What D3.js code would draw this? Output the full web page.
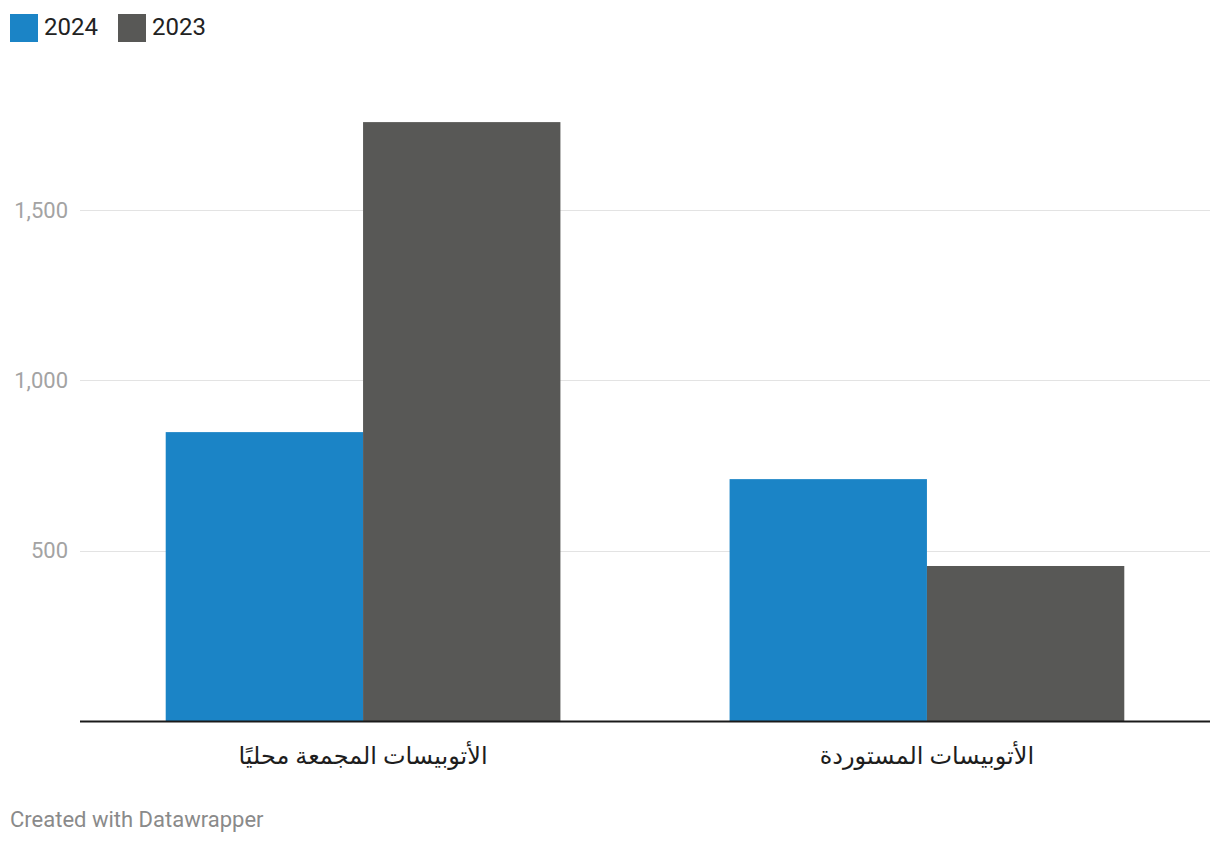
<!DOCTYPE html>
<html>
<head>
<meta charset="utf-8">
<script src="https://cdn.jsdelivr.net/npm/d3@7"></script>
<style>
  body { margin: 0; background: #fff; font-family: Roboto, sans-serif; }
  svg text { font-family: Roboto, "Noto Sans", "DejaVu Sans", sans-serif; }
</style>
</head>
<body>
<svg width="1220" height="844"></svg>
<script>
const svg = d3.select("svg");

const categories = ["الأتوبيسات المجمعة محليًا", "الأتوبيسات المستوردة"];
const seriesNames = ["2024", "2023"];
const values2024 = [848, 710];
const values2023 = [1758, 455];
const yTicks = [500, 1000, 1500];
const colors = ["#1b84c6", "#585856"];

const series = [values2024, values2023];
const data = categories.map((c, i) => ({
  cat: c,
  vals: seriesNames.map((s, j) => ({ key: s, value: series[j][i] }))
}));

const left = 80, right = 1210, baseY = 721;

const x = d3.scaleBand()
    .domain(categories)
    .range([left, right])
    .paddingInner(0.3)
    .paddingOuter(0.152);

const xInner = d3.scaleBand()
    .domain(seriesNames)
    .range([0, x.bandwidth()]);

const y = d3.scaleLinear()
    .domain([0, 1500])
    .range([baseY, 210]);

const color = d3.scaleOrdinal().domain(seriesNames).range(colors);

// gridlines + tick labels
const grid = svg.append("g");
grid.selectAll("line").data(yTicks)
  .enter().append("line")
    .attr("x1", left)
    .attr("x2", right)
    .attr("y1", d => Math.round(y(d)) + 0.5)
    .attr("y2", d => Math.round(y(d)) + 0.5)
    .attr("stroke", "#e3e3e3")
    .attr("stroke-width", 1);

grid.selectAll("text").data(yTicks)
  .enter().append("text")
    .attr("x", 68)
    .attr("y", d => y(d))
    .attr("dy", "0.35em")
    .attr("text-anchor", "end")
    .attr("fill", "#a3a3a3")
    .attr("font-size", 22)
    .text(d => d3.format(",")(d));

// bars
const groups = svg.selectAll("g.group").data(data)
  .enter().append("g")
    .attr("class", "group")
    .attr("transform", d => `translate(${x(d.cat)},0)`);

groups.selectAll("rect").data(d => d.vals)
  .enter().append("rect")
    .attr("x", d => xInner(d.key))
    .attr("width", xInner.bandwidth())
    .attr("y", d => y(d.value))
    .attr("height", d => baseY - y(d.value))
    .attr("fill", d => color(d.key));

// baseline
svg.append("line")
    .attr("x1", left)
    .attr("x2", right)
    .attr("y1", baseY + 0.5)
    .attr("y2", baseY + 0.5)
    .attr("stroke", "#1a1a1a")
    .attr("stroke-width", 2);

// category labels
svg.selectAll("text.cat").data(categories)
  .enter().append("text")
    .attr("class", "cat")
    .attr("x", d => x(d) + x.bandwidth() / 2)
    .attr("y", 756)
    .attr("dy", "0.35em")
    .attr("text-anchor", "middle")
    .attr("fill", "#1d1d1d")
    .attr("font-size", 24)
    .text(d => d);

// legend
const legend = svg.append("g");
const legendX = [10, 118];
const items = legend.selectAll("g").data(seriesNames)
  .enter().append("g")
    .attr("transform", (d, i) => `translate(${legendX[i]},14)`);

items.append("rect")
    .attr("width", 28)
    .attr("height", 28)
    .attr("fill", d => color(d));

items.append("text")
    .attr("x", 34)
    .attr("y", 13)
    .attr("dy", "0.35em")
    .attr("fill", "#222")
    .attr("font-size", 24)
    .text(d => d);

// footer
svg.append("text")
    .attr("x", 10)
    .attr("y", 819)
    .attr("dy", "0.35em")
    .attr("fill", "#8a8a8a")
    .attr("font-size", 22)
    .text("Created with Datawrapper");
</script>
</body>
</html>
